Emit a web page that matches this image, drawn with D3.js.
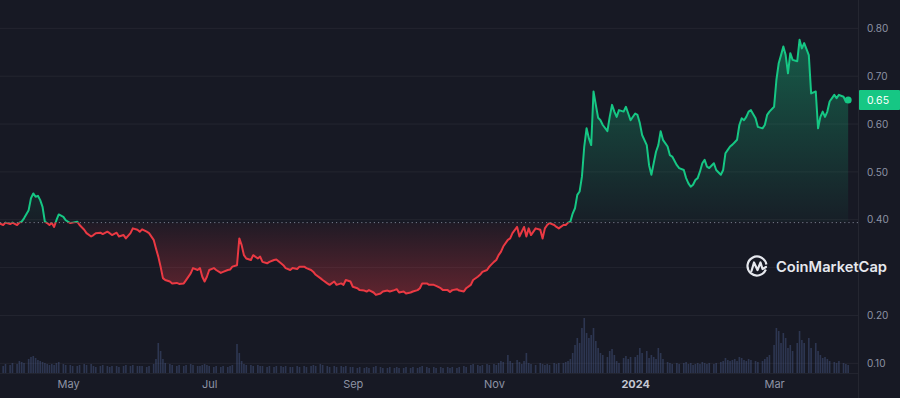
<!DOCTYPE html>
<html><head><meta charset="utf-8">
<script src="https://cdn.jsdelivr.net/npm/d3@7"></script>
<style>
html,body{margin:0;padding:0;background:#171924;}
svg{display:block;}
</style></head>
<body>
<svg id="chart" width="900" height="398"></svg>
<script>
const dates = [
"2023-04-01","2023-04-03","2023-04-04","2023-04-06","2023-04-07","2023-04-09","2023-04-10","2023-04-11","2023-04-12","2023-04-14","2023-04-15","2023-04-16","2023-04-17","2023-04-18","2023-04-19","2023-04-20","2023-04-21","2023-04-22","2023-04-23","2023-04-24","2023-04-25","2023-04-26","2023-04-27","2023-04-29","2023-04-30",
"2023-05-02","2023-05-03","2023-05-05","2023-05-06","2023-05-08","2023-05-09","2023-05-11","2023-05-12","2023-05-13","2023-05-15","2023-05-16","2023-05-18","2023-05-19","2023-05-20","2023-05-22","2023-05-23","2023-05-25","2023-05-26","2023-05-28","2023-05-29","2023-05-31",
"2023-06-01","2023-06-02","2023-06-04","2023-06-05","2023-06-07","2023-06-08","2023-06-09","2023-06-10","2023-06-11","2023-06-12","2023-06-14","2023-06-15","2023-06-17","2023-06-18","2023-06-20","2023-06-21","2023-06-23","2023-06-24","2023-06-26","2023-06-27","2023-06-28","2023-06-29","2023-06-30",
"2023-07-01","2023-07-03","2023-07-04","2023-07-06","2023-07-07","2023-07-09","2023-07-10","2023-07-11","2023-07-13","2023-07-14","2023-07-15","2023-07-16","2023-07-17","2023-07-19","2023-07-20","2023-07-22","2023-07-23","2023-07-24","2023-07-26","2023-07-27","2023-07-29","2023-07-30",
"2023-08-01","2023-08-02","2023-08-03","2023-08-05","2023-08-06","2023-08-08","2023-08-09","2023-08-11","2023-08-12","2023-08-14","2023-08-15","2023-08-16","2023-08-18","2023-08-19","2023-08-21","2023-08-22","2023-08-24","2023-08-25","2023-08-27","2023-08-28","2023-08-29","2023-08-31",
"2023-09-01","2023-09-03","2023-09-04","2023-09-06","2023-09-07","2023-09-08","2023-09-10","2023-09-11","2023-09-13","2023-09-14","2023-09-16","2023-09-17","2023-09-19","2023-09-20","2023-09-21","2023-09-23","2023-09-24","2023-09-26","2023-09-27","2023-09-29","2023-09-30",
"2023-10-01","2023-10-03","2023-10-04","2023-10-06","2023-10-07","2023-10-09","2023-10-10","2023-10-12","2023-10-13","2023-10-14","2023-10-16","2023-10-17","2023-10-19","2023-10-20","2023-10-22","2023-10-23","2023-10-25","2023-10-26","2023-10-27","2023-10-29","2023-10-30",
"2023-11-01","2023-11-02","2023-11-03","2023-11-04","2023-11-05","2023-11-07","2023-11-08","2023-11-09","2023-11-11","2023-11-12","2023-11-13","2023-11-14","2023-11-15","2023-11-16","2023-11-17","2023-11-19","2023-11-21","2023-11-22","2023-11-23","2023-11-24","2023-11-25","2023-11-27","2023-11-28","2023-11-29",
"2023-12-01","2023-12-02","2023-12-03","2023-12-04","2023-12-05","2023-12-06","2023-12-07","2023-12-08","2023-12-09","2023-12-10","2023-12-11","2023-12-12","2023-12-13","2023-12-14","2023-12-15","2023-12-16","2023-12-17","2023-12-18","2023-12-20","2023-12-21","2023-12-22","2023-12-23","2023-12-24","2023-12-25","2023-12-27","2023-12-28","2023-12-29","2023-12-30",
"2024-01-01","2024-01-02","2024-01-03","2024-01-04","2024-01-06","2024-01-07","2024-01-08","2024-01-09","2024-01-10","2024-01-11","2024-01-12","2024-01-13","2024-01-15","2024-01-16","2024-01-17","2024-01-19","2024-01-20","2024-01-22","2024-01-23","2024-01-24","2024-01-25","2024-01-26","2024-01-27","2024-01-28","2024-01-29","2024-01-30","2024-01-31",
"2024-02-01","2024-02-02","2024-02-04","2024-02-05","2024-02-07","2024-02-08","2024-02-09","2024-02-10","2024-02-11","2024-02-12","2024-02-13","2024-02-14","2024-02-15","2024-02-16","2024-02-17","2024-02-18","2024-02-19","2024-02-20","2024-02-22","2024-02-23","2024-02-25","2024-02-26","2024-02-27","2024-02-28",
"2024-03-01","2024-03-02","2024-03-03","2024-03-04","2024-03-05","2024-03-06","2024-03-07","2024-03-08","2024-03-09","2024-03-11","2024-03-12","2024-03-13","2024-03-14","2024-03-16","2024-03-17","2024-03-19","2024-03-20","2024-03-21","2024-03-22","2024-03-23","2024-03-24","2024-03-25","2024-03-27","2024-03-28","2024-03-29","2024-03-31",
"2024-04-01","2024-04-02"];

const prices = [
.393,.389,.394,.391,.394,.389,.394,.396,.403,.420,.445,.455,.448,.450,.441,.427,.396,.393,.389,.393,.385,.399,.411,.406,.399,
.393,.394,.396,.389,.379,.372,.365,.368,.372,.373,.370,.375,.372,.368,.373,.365,.368,.361,.372,.382,.379,
.375,.380,.375,.372,.358,.340,.323,.302,.278,.274,.271,.267,.268,.266,.267,.274,.288,.299,.295,.299,.281,.271,.281,
.295,.299,.295,.289,.291,.295,.296,.302,.305,.361,.347,.326,.319,.316,.326,.319,.323,.312,.309,.312,.316,.317,
.309,.305,.299,.295,.299,.297,.302,.302,.299,.295,.291,.285,.278,.274,.267,.264,.271,.264,.267,.264,.274,.271,
.260,.257,.253,.252,.250,.253,.248,.243,.246,.250,.252,.250,.253,.255,.248,.250,.246,.248,.250,.253,.257,
.267,.267,.264,.264,.262,.257,.253,.253,.249,.253,.255,.252,.250,.257,.264,.274,.281,.285,.291,.295,.302,
.312,.316,.326,.333,.344,.358,.361,.372,.385,.365,.375,.385,.365,.382,.368,.382,.379,.361,.382,.389,.393,.389,.385,.382,
.389,.389,.394,.396,.413,.424,.452,.459,.490,.553,.591,.570,.556,.668,.640,.613,.608,.598,.585,.615,.640,.626,.615,.629,.626,.636,.622,.608,
.622,.619,.602,.577,.556,.514,.494,.518,.542,.556,.585,.567,.553,.535,.532,.514,.508,.504,.487,.476,.469,.473,.483,.487,.501,.518,.525,
.511,.508,.518,.504,.494,.504,.539,.546,.553,.557,.562,.567,.598,.612,.608,.615,.626,.629,.612,.594,.591,.598,.619,.626,
.636,.692,.727,.744,.762,.744,.706,.748,.734,.731,.776,.758,.769,.744,.664,.668,.591,.615,.626,.615,.626,.647,.661,.654,.661,.657,
.647,.650];

const volumes = [
8,7,9,8,10,9,12,11,10,14,16,17,15,13,12,11,10,9,8,9,8,10,11,9,8,
8,7,7,8,9,8,9,7,6,7,8,7,6,7,7,6,7,8,7,8,7,
7,7,6,7,9,14,30,22,14,10,9,8,7,8,7,8,9,8,7,7,8,9,8,
7,6,7,6,7,6,7,8,29,20,12,9,8,8,7,8,7,7,6,7,6,7,
7,6,7,6,6,7,6,7,6,7,8,7,9,8,7,6,7,6,7,6,7,6,
6,5,6,5,6,5,6,7,6,5,5,6,5,6,5,5,6,5,6,5,6,
7,6,5,6,5,6,5,6,5,6,5,6,7,6,8,9,8,7,8,9,8,
9,8,10,12,11,18,12,10,13,11,9,12,20,10,9,8,10,9,8,9,8,10,9,10,
10,11,12,14,20,28,35,30,45,55,40,35,38,45,32,25,20,18,16,22,24,18,12,10,15,17,14,16,
16,18,25,20,22,15,18,16,14,25,20,14,11,10,9,10,9,10,11,9,10,8,9,10,9,11,10,
9,10,9,10,11,12,15,13,12,13,14,12,16,15,13,12,14,13,12,11,12,14,16,18,
28,45,42,30,40,35,25,28,22,30,42,33,30,35,25,30,22,18,15,16,14,12,11,10,12,10,
9,8];

const baseline = 0.394;
const lastPriceLabel = "0.65";
const gridValues = [0.1,0.2,0.3,0.4,0.5,0.6,0.7,0.8];
const yTickValues = [0.1,0.2,0.4,0.5,0.6,0.7,0.8];
const xTickDates = ["2023-05-01","2023-07-01","2023-09-01","2023-11-01","2024-01-01","2024-03-01"];
const xTickLabels = ["May","Jul","Sep","Nov","2024","Mar"];
const brandName = "CoinMarketCap";

const W = 900, H = 398, plotRight = 858;
const GREEN = "#16c784", RED = "#ea3943";
const parse = d3.utcParse("%Y-%m-%d");
const data = dates.map((d,i)=>({date:parse(d), price:prices[i], vol:volumes[i]}));

const x = d3.scaleUtc()
  .domain([new Date(Date.UTC(2023,3,1,15)), new Date(Date.UTC(2024,3,6,6))])
  .range([0, plotRight]);
const y = d3.scaleLinear().domain([0, 0.8]).range([411.2, 28.3]);
const yv = d3.scaleLinear().domain([0, 60]).range([373, 313]);

const svg = d3.select("#chart");
svg.append("rect").attr("width",W).attr("height",H).attr("fill","#171924");

const defs = svg.append("defs");
const yb = y(baseline);
defs.append("clipPath").attr("id","clipUp").append("rect")
  .attr("x",0).attr("y",0).attr("width",plotRight).attr("height",yb);
defs.append("clipPath").attr("id","clipDown").append("rect")
  .attr("x",0).attr("y",yb).attr("width",plotRight).attr("height",H-yb);

const gUp = defs.append("linearGradient").attr("id","gUp")
  .attr("gradientUnits","userSpaceOnUse").attr("x1",0).attr("x2",0)
  .attr("y1",y(d3.max(prices))).attr("y2",yb);
gUp.append("stop").attr("offset",0).attr("stop-color",GREEN).attr("stop-opacity",0.38);
gUp.append("stop").attr("offset",1).attr("stop-color",GREEN).attr("stop-opacity",0.03);
const gDn = defs.append("linearGradient").attr("id","gDn")
  .attr("gradientUnits","userSpaceOnUse").attr("x1",0).attr("x2",0)
  .attr("y1",yb).attr("y2",y(d3.min(prices)));
gDn.append("stop").attr("offset",0).attr("stop-color",RED).attr("stop-opacity",0.04);
gDn.append("stop").attr("offset",1).attr("stop-color",RED).attr("stop-opacity",0.34);

// grid
svg.append("g").selectAll("line").data(gridValues).join("line")
  .attr("x1",0).attr("x2",plotRight)
  .attr("y1",d=>y(d)).attr("y2",d=>y(d))
  .attr("stroke","#ffffff").attr("stroke-opacity",0.055).attr("stroke-width",1);
svg.append("line").attr("x1",plotRight+0.5).attr("x2",plotRight+0.5).attr("y1",0).attr("y2",H)
  .attr("stroke","#ffffff").attr("stroke-opacity",0.06);
svg.append("line").attr("x1",0).attr("x2",plotRight).attr("y1",373.5).attr("y2",373.5)
  .attr("stroke","#ffffff").attr("stroke-opacity",0.05);

// volume
svg.append("g").selectAll("rect").data(data).join("rect")
  .attr("x",d=>x(d.date)-0.8).attr("width",1.6)
  .attr("y",d=>yv(d.vol)).attr("height",d=>yv(0)-yv(d.vol))
  .attr("fill","#4a5a8a").attr("fill-opacity",0.45);

// areas
const area = d3.area().x(d=>x(d.date)).y0(yb).y1(d=>y(d.price)).curve(d3.curveLinear);
const line = d3.line().x(d=>x(d.date)).y(d=>y(d.price)).curve(d3.curveLinear);
svg.append("path").datum(data).attr("d",area).attr("fill","url(#gUp)").attr("clip-path","url(#clipUp)");
svg.append("path").datum(data).attr("d",area).attr("fill","url(#gDn)").attr("clip-path","url(#clipDown)");

// baseline
svg.append("line").attr("x1",0).attr("x2",plotRight).attr("y1",yb).attr("y2",yb)
  .attr("stroke","#a0a6b8").attr("stroke-opacity",0.7).attr("stroke-dasharray","1.2,3");

// lines
svg.append("path").datum(data).attr("d",line).attr("fill","none").attr("stroke",GREEN)
  .attr("stroke-width",2).attr("stroke-linejoin","round").attr("clip-path","url(#clipUp)");
svg.append("path").datum(data).attr("d",line).attr("fill","none").attr("stroke",RED)
  .attr("stroke-width",2).attr("stroke-linejoin","round").attr("clip-path","url(#clipDown)");

const last = data[data.length-1];
svg.append("circle").attr("cx",x(last.date)).attr("cy",y(last.price)).attr("r",3.5).attr("fill",GREEN);

// y axis
const yAxis = svg.append("g").attr("transform",`translate(867,0)`)
  .call(d3.axisRight(y).tickValues(yTickValues).tickFormat(d3.format(".2f")).tickSize(0).tickPadding(0));
yAxis.select(".domain").remove();
yAxis.selectAll("text").attr("fill","#8d93a5").attr("font-family","Inter, 'Noto Sans', sans-serif").attr("font-size",10);

// price label
const py = y(last.price);
svg.append("rect").attr("x",859).attr("y",py-10).attr("width",41).attr("height",20).attr("fill",GREEN).attr("rx",1);
svg.append("text").attr("x",867).attr("y",py).attr("dy","0.35em").text(lastPriceLabel)
  .attr("fill","#ffffff").attr("font-family","Inter, 'Noto Sans', sans-serif").attr("font-size",10.5);

// x axis
const xAxis = svg.append("g").attr("transform","translate(0,377)")
  .call(d3.axisBottom(x).tickValues(xTickDates.map(parse)).tickFormat((d,i)=>xTickLabels[i]).tickSize(0).tickPadding(3));
xAxis.select(".domain").remove();
xAxis.selectAll("text").attr("fill",(d,i)=>xTickLabels[i]==="2024"?"#c3c7d3":"#8d93a5")
  .attr("font-weight",(d,i)=>xTickLabels[i]==="2024"?700:400)
  .attr("font-family","Inter, 'Noto Sans', sans-serif").attr("font-size",11);

// brand
const logo = svg.append("g").attr("transform","translate(757,266)");
logo.append("path").attr("d",d3.arc()({innerRadius:9.5,outerRadius:9.5,startAngle:Math.PI*0.62,endAngle:Math.PI*2.45}))
  .attr("fill","none").attr("stroke","#e6e8ee").attr("stroke-width",2.2).attr("stroke-linecap","round");
logo.append("path").attr("d","M-5.5,5 L-3,-3.5 L0.5,4 L3.5,-3.5 L5.5,3 L9,1")
  .attr("fill","none").attr("stroke","#e6e8ee").attr("stroke-width",2.2).attr("stroke-linejoin","round").attr("stroke-linecap","round");
svg.append("text").attr("x",776).attr("y",272).text(brandName)
  .attr("fill","#e6e8ee").attr("font-family","Inter, 'Noto Sans', sans-serif").attr("font-weight",600).attr("font-size",14.5)
  .attr("textLength",111).attr("lengthAdjust","spacingAndGlyphs");
</script>
</body></html>
